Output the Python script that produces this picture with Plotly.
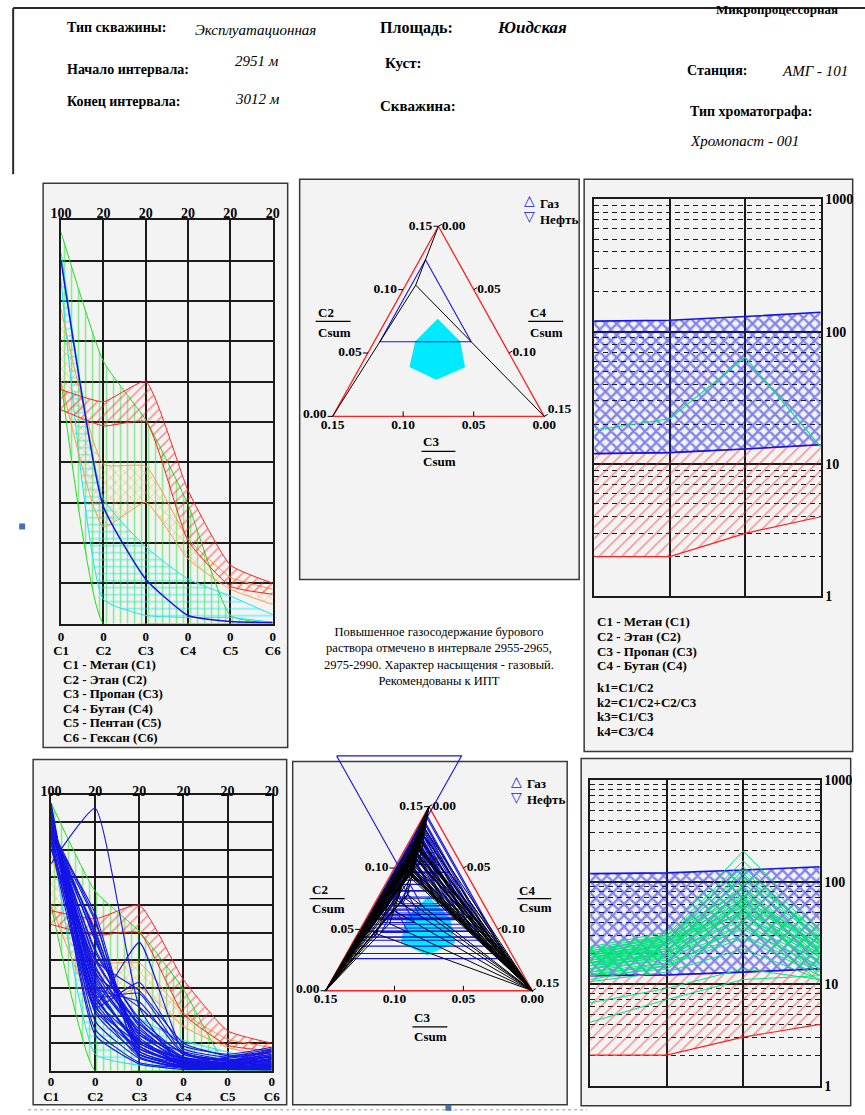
import numpy as np
import plotly.graph_objects as go

# ---------------- header ----------------
well_type = "Эксплуатационная"
area_name = "Юидская"
interval_top = "2951 м"
interval_bottom = "3012 м"
station = "АМГ - 101"
chromatograph = "Хромопаст - 001"
conclusion = [
    "Повышенное газосодержание бурового",
    "раствора отмечено в интервале 2955-2965,",
    "2975-2990. Характер насыщения - газовый.",
    "Рекомендованы к ИПТ",
]

# ---------------- component profile (%, C1..C6) ----------------
components = ["C1", "C2", "C3", "C4", "C5", "C6"]
axis_full_scale = [100, 20, 20, 20, 20, 20]
top_labels = ["100", "20", "20", "20", "20", "20"]
component_names = ["C1 - Метан (C1)", "C2 - Этан (C2)", "C3 - Пропан (C3)",
                   "C4 - Бутан (C4)", "C5 - Пентан (C5)", "C6 - Гексан (C6)"]

green_hi = [97, 13.0, 10.1, 5.9, 0.4, 0.0]
green_lo = [60, 0.0, 0.0, 0.0, 0.0, 0.0]
cyan_hi = [92, 6.2, 3.8, 2.2, 1.36, 0.44]
cyan_lo = [85, 1.2, 0.4, 0.3, 0.3, 0.06]
orange_hi = [78, 7.9, 7.8, 4.2, 2.3, 1.7]
orange_lo = [60, 4.8, 6.0, 3.2, 1.7, 0.95]
red_hi = [58, 11.0, 12.0, 6.6, 2.9, 2.0]
red_lo = [53, 9.8, 10.0, 4.1, 1.85, 1.45]

# current sample
sample_comp = [90, 5.8, 2.2, 0.4, 0.1, 0.05]

# all samples over the interval
c1_all = [90, 75, 85, 96, 95, 94, 93, 92, 91, 90, 89, 88, 87, 86, 93, 92, 91, 90, 89, 88,
          87, 86, 85, 84, 83, 82, 95, 94, 96, 93, 92, 91, 90, 89, 88, 87, 86, 97, 85, 80]
c2_all = [5.8, 19.0, 4.8, 4.2, 5.0, 6.0, 6.6, 7.2, 8.0, 8.6, 9.4, 10.0, 10.8, 11.4, 4.8, 5.4,
          6.2, 7.0, 7.6, 8.2, 8.8, 9.6, 10.2, 6.0, 5.4, 4.6, 3.0, 3.6, 2.6, 4.4, 5.2, 6.8,
          7.4, 9.8, 11.0, 6.4, 5.6, 4.6, 7.0, 8.0]
c3_all = [2.2, 4.6, 9.3, 1.2, 1.6, 2.0, 2.6, 3.0, 3.4, 3.8, 2.6, 2.2, 1.8, 1.4, 1.0, 1.4,
          1.8, 2.4, 2.8, 3.2, 3.6, 2.0, 1.6, 5.0, 5.6, 6.4, 0.6, 0.9, 0.5, 1.6, 2.2, 2.8,
          3.4, 1.2, 1.0, 1.8, 1.2, 2.0, 4.6, 5.8]
c4_all = [0.4, 0.3, 1.4, 0.3, 0.5, 0.6, 0.8, 0.9, 1.0, 1.2, 1.4, 0.9, 0.6, 0.5, 0.2, 0.3,
          0.4, 0.5, 0.6, 0.7, 0.8, 0.9, 0.7, 1.2, 1.3, 1.6, 0.2, 0.2, 0.1, 0.5, 0.7, 1.0,
          1.3, 0.4, 0.3, 0.4, 0.3, 0.6, 1.8, 2.0]
c5_all = [0.1, 0.2, 0.4, 0.2, 0.3, 0.4, 0.5, 0.4, 0.6, 0.7, 0.8, 0.9, 1.0, 0.6, 0.1, 0.2,
          0.2, 0.3, 0.3, 0.4, 0.5, 0.6, 0.6, 0.7, 0.8, 1.0, 0.1, 0.2, 0.1, 0.3, 0.4, 0.5,
          0.7, 0.4, 0.5, 0.2, 0.2, 0.3, 1.2, 1.1]
c6_all = [0.05, 0.2, 0.4, 0.3, 0.4, 0.5, 0.6, 0.7, 0.8, 1.0, 1.2, 1.4, 1.6, 1.5, 0.2, 0.3,
          0.4, 0.5, 0.6, 0.7, 0.8, 1.0, 1.1, 1.2, 1.0, 1.3, 0.1, 0.2, 0.1, 0.9, 1.1, 1.4,
          1.6, 0.8, 0.9, 0.3, 0.2, 0.5, 1.7, 1.4]

# ---------------- ratio chart ----------------
ratio_names = ["k1", "k2", "k3", "k4"]
ratio_legend = ["k1=C1/C2", "k2=C1/C2+C2/C3", "k3=C1/C3", "k4=C3/C4"]
gas_k_hi = [120, 122, 130, 140]
gas_k_lo = [12, 12.2, 13, 14]
oil_k_hi = [12, 12.2, 13, 14]
oil_k_lo = [2, 2, 3, 4]
k_ticks = [1, 10, 100, 1000]
k_minor = [m * d for d in (1, 10, 100) for m in range(2, 10)]

sample_k = [18, 22, 64, 13.5]
k1_all = [18, 4.2, 6.5, 12, 13, 14, 15, 16, 17, 18, 19, 20, 21, 22, 23, 15, 16, 17, 18, 19,
          20, 14, 13, 12, 11, 16, 17, 18, 15, 14, 20, 21, 10.5, 12.5, 19, 16]
k2_all = [22, 7, 9, 14, 16, 17, 18, 19, 21, 23, 25, 27, 29, 30, 32, 20, 22, 24, 26, 28,
          30, 19, 18, 16, 15, 20, 22, 24, 21, 20, 26, 28, 13, 15, 24, 25]
k3_all = [64, 11, 14, 40, 48, 55, 60, 70, 80, 90, 105, 120, 140, 160, 200, 45, 52, 58, 66, 75,
          85, 38, 34, 30, 28, 42, 50, 110, 95, 62, 56, 48, 22, 36, 72, 130]
k4_all = [13.5, 12, 11, 10.5, 12, 14, 16, 18, 20, 22, 24, 26, 28, 30, 34, 20, 22, 25, 27, 24,
          21, 17, 15, 13, 12, 19, 23, 32, 29, 25, 18, 16, 11, 14, 19, 27]

# ---------------- triangle diagram ----------------
S = 0.15                       # full scale of each side (fraction of Csum)
tri_ticks = [0.0, 0.05, 0.10, 0.15]
prod_a = [0.077, 0.059, 0.039, 0.029, 0.039, 0.059]   # productive zone, C2 share
prod_b = [0.037, 0.030, 0.037, 0.062, 0.076, 0.062]   # C3 share
prod_c = [0.036, 0.061, 0.075, 0.059, 0.035, 0.029]   # C4 share

# ================= drawing =================
# layout positions below are given in sheet pixels (865 x 1115 sheet);
# the figure is sized so that the sheet fills the page around the default body margin
SX, SY = 0.98, 0.986
BODY = 8
W = round(865 / SX - BODY)
H = round(1115 / SY - BODY)
INK = "#1b1b1b"
FRAME = "#3a3a3a"
PANEL = "#f3f3f3"
SERIF = "Liberation Serif"
RED = "#ff2020"
ORANGE = "#ff9a48"
GREEN = "#1ee01e"
CYAN = "#14e6f2"
BLUE = "#1414e6"
SPRING = "#00e67a"
TICKFONT = dict(family=SERIF, size=14, color="black", weight="bold")
TICKFONT_S = dict(family=SERIF, size=13, color="black", weight="bold")


def px(x):
    return (x / SX - BODY) / W


def py(y):
    return 1 - (y / SY - BODY) / H


def dx(x0, x1):
    return [px(x0), px(x1)]


def dy(top, bot):
    return [py(bot), py(top)]


def ax(n):
    return "" if n == 1 else str(n)


fig = go.Figure()
axes = {}
shapes = []
annots = []


def scat(n, x, y, **kw):
    s = ax(n)
    fig.add_trace(go.Scatter(x=x, y=y, xaxis=f"x{s}", yaxis=f"y{s}", showlegend=False,
                             hoverinfo="skip", **kw))


def txt(x, y, s, size=13, anchor="left", color="black", family=SERIF):
    annots.append(dict(x=px(x), y=py(y), xref="paper", yref="paper", text=s,
                       showarrow=False, xanchor=anchor, yanchor="middle",
                       font=dict(family=family, size=size, color=color)))


def rect(x0, y0, x1, y1, fill, line="rgba(0,0,0,0)", lw=0, layer="below"):
    shapes.append(dict(type="rect", xref="paper", yref="paper", x0=px(x0), x1=px(x1),
                       y0=py(y1), y1=py(y0), fillcolor=fill,
                       line=dict(color=line, width=lw), layer=layer))


def seg(x0, y0, x1, y1, color, lw, dash="solid", layer="above"):
    shapes.append(dict(type="line", xref="paper", yref="paper", x0=px(x0), x1=px(x1),
                       y0=py(y0), y1=py(y1), line=dict(color=color, width=lw, dash=dash),
                       layer=layer))


def norm(vals):
    return [v / s for v, s in zip(vals, axis_full_scale)]


# ---------- page furniture ----------
rect(10, 7.9, 865, 9, "#dbe5f3")
seg(10, 9, 865, 9, "#2a2a2a", 2, layer="below")
seg(10, 9, 10, 175, "#2a2a2a", 2, layer="below")
for box in [(40, 184, 285, 748), (297, 180, 577, 580), (582, 180, 851, 752),
            (30, 760, 284, 1105), (290, 762, 565, 1105), (579, 759, 849, 1106)]:
    rect(*box, PANEL, FRAME, 1.5)
seg(25, 1110, 585, 1110, "#8a9ab8", 1, dash="dot", layer="below")
rect(16, 524, 22, 530, "#4a6fb5")
rect(443, 1105, 449, 1111, "#4a6fb5")

# ---------- header ----------
B = lambda s: f"<b>{s}</b>"
I = lambda s: f"<i>{s}</i>"
txt(62, 28, B("Тип скважины:"), 14)
txt(190, 31, I(well_type), 15)
txt(375, 28, B("Площадь:"), 16)
txt(493, 28, B(I(area_name)), 17)
txt(775, 10, B("Микропроцессорная"), 13, anchor="center")
txt(62, 70, B("Начало интервала:"), 14)
txt(230, 62, I(interval_top), 15)
txt(380, 64, B("Куст:"), 15)
txt(683, 71, B("Станция:"), 14)
txt(778, 72, I(station), 15)
txt(62, 102, B("Конец интервала:"), 14)
txt(230, 100, I(interval_bottom), 15)
txt(375, 107, B("Скважина:"), 15)
txt(686, 112, B("Тип хроматографа:"), 14)
txt(686, 142, I(chromatograph), 15)

# ---------- component profiles ----------
zone_style = [
    (green_lo, green_hi, GREEN, "|", 0.22),
    (cyan_lo, cyan_hi, CYAN, "-", 0.24),
    (orange_lo, orange_hi, ORANGE, "x", 0.26),
    (red_lo, red_hi, RED, "/", 0.22),
]
SPL = dict(shape="spline", smoothing=0.45)


def profile(n_main, n_top, n_lab, box, lab_px, top_shift, zero_shift, tfont, samples, lw):
    x0, x1, y0, y1 = box
    s = ax(n_main)
    grid = dict(showgrid=True, gridcolor=INK, gridwidth=1.5, showline=True, mirror=True,
                linecolor=INK, linewidth=1.5, zeroline=False, ticks="", fixedrange=True)
    axes[f"xaxis{s}"] = dict(domain=dx(x0, x1), range=[0, 5], anchor=f"y{s}",
                             tickmode="array", tickvals=list(range(6)), ticktext=["0"] * 6,
                             tickfont=tfont, ticklabelstandoff=zero_shift, **grid)
    axes[f"yaxis{s}"] = dict(domain=dy(y0, y1), range=[0, 1], anchor=f"x{s}",
                             tickmode="array", tickvals=[i / 10 for i in range(11)],
                             showticklabels=False, **grid)
    axes[f"xaxis{ax(n_top)}"] = dict(overlaying=f"x{s}", anchor=f"y{s}", side="top",
                                     range=[0, 5], tickmode="array", tickvals=list(range(6)),
                                     ticktext=top_labels, ticks="", showgrid=False,
                                     showline=False, zeroline=False, tickfont=TICKFONT,
                                     ticklabelstandoff=top_shift, fixedrange=True)
    axes[f"xaxis{ax(n_lab)}"] = dict(overlaying=f"x{s}", anchor="free", position=py(lab_px),
                                     side="bottom", range=[0, 5], tickmode="array",
                                     tickvals=list(range(6)), ticktext=components, ticks="",
                                     showgrid=False, showline=False, zeroline=False,
                                     tickfont=tfont, fixedrange=True)
    for n in (n_top, n_lab):
        fig.add_trace(go.Scatter(x=[0, 5], y=[None, None], xaxis=f"x{ax(n)}", yaxis=f"y{s}",
                                 mode="lines", showlegend=False, hoverinfo="skip"))
    xs = list(range(6))
    for lo, hi, col, pat, sol in zone_style:
        scat(n_main, xs, norm(lo), mode="lines", line=dict(color=col, width=1, **SPL))
        scat(n_main, xs, norm(hi), mode="lines", line=dict(color=col, width=1, **SPL),
             fill="tonexty", fillcolor="rgba(0,0,0,0)",
             fillpattern=dict(shape=pat, fgcolor=col, bgcolor="rgba(0,0,0,0)", size=7,
                              solidity=sol, fillmode="overlay"))
    lx, ly = [], []
    for comp in samples:
        lx += xs + [None]
        ly += norm(comp) + [None]
    scat(n_main, lx, ly, mode="lines", line=dict(color=BLUE, width=lw, **SPL))


all_samples = [list(r) for r in zip(c1_all, c2_all, c3_all, c4_all, c5_all, c6_all)]

profile(1, 2, 3, (58, 270, 221, 624), 641, -2, 0, TICKFONT_S, [sample_comp], 1.5)
profile(4, 5, 6, (48, 269, 795, 1071), 1087, -5, -2, TICKFONT_S, all_samples, 1.1)

for i, name in enumerate(component_names):
    txt(58, 665 + i * 14.5, B(name), 13)

# ---------- triangle diagrams ----------
def tern_xy(a, b, c):
    a, b, c = (np.asarray(v, dtype=float) for v in (a, b, c))
    t = a + b + c
    return ((c - b) / t).tolist(), (a / t).tolist()


def triangle(n, box, Lx, Rx, base_y, apex_y, samples, titles):
    x0, x1, y0, y1 = box
    cx, hx, hy = (Lx + Rx) / 2, (Rx - Lx) / 2, base_y - apex_y
    s = ax(n)
    axes[f"xaxis{s}"] = dict(domain=dx(x0, x1), range=[(x0 - cx) / hx, (x1 - cx) / hx],
                             anchor=f"y{s}", visible=False, fixedrange=True)
    axes[f"yaxis{s}"] = dict(domain=dy(y0, y1), range=[(base_y - y1) / hy, (base_y - y0) / hy],
                             anchor=f"x{s}", visible=False, fixedrange=True)
    fx, fy = tern_xy([S, 0, 0, S], [0, 0, S, 0], [0, S, 0, 0])
    scat(n, fx, fy, mode="lines", line=dict(color=RED, width=1.3))
    zx, zy = tern_xy(prod_a + prod_a[:1], prod_b + prod_b[:1], prod_c + prod_c[:1])
    scat(n, zx, zy, mode="lines", line=dict(width=0, color=CYAN), fill="toself",
         fillcolor="#00eaff")
    bx, by, kx, ky = [], [], [], []
    for comp in samples:
        cs = sum(comp)
        a, b, c = comp[1] / cs, comp[2] / cs, comp[3] / cs
        vx, vy = tern_xy([a, a, S - b - c, a], [b, S - a - c, b, b],
                         [S - a - b, c, c, S - a - b])
        bx += vx + [None]
        by += vy + [None]
        (qx,), (qy,) = tern_xy([comp[1]], [comp[2]], [comp[3]])
        for vxx, vyy in ((0, 1), (-1, 0), (1, 0)):
            kx += [vxx, qx, None]
            ky += [vyy, qy, None]
    scat(n, bx, by, mode="lines", line=dict(color=BLUE, width=1.1))
    scat(n, kx, ky, mode="lines", line=dict(color="black", width=1))
    # side scales
    tlx, tly, tx, ty, tt, tp = [], [], [], [], [], []
    ex, ey = 5 / hx, 5 / hy
    for v in tri_ticks:
        lab = f"{v:.2f}"
        (lx,), (ly,) = tern_xy([v], [S - v], [0])
        tlx += [lx, lx - ex, None]
        tly += [ly, ly, None]
        tx.append(lx - ex - 0.01); ty.append(ly + (1.5 / hy if v == 0 else 0))
        tt.append(lab); tp.append("middle left")
        (rx,), (ry,) = tern_xy([S - v], [0], [v])
        tlx += [rx, rx + 0.87 * ex * 0.8, None]
        tly += [ry, ry + 0.5 * ey * 0.8, None]
        tx.append(rx + 0.87 * ex * 0.8); ty.append(ry); tt.append(lab)
        tp.append("top right" if v == S else "middle right")
        (gx,), (gy,) = tern_xy([0], [v], [S - v])
        if 0 < v < S:
            tlx += [gx, gx, None]
            tly += [gy, gy + ey, None]
        tx.append(gx); ty.append(gy - 2.5 / hy); tt.append(lab); tp.append("bottom center")
    scat(n, tlx, tly, mode="lines", line=dict(color="black", width=1))
    scat(n, tx, ty, mode="text", text=[B(t) for t in tt], textposition=tp,
         textfont=dict(family=SERIF, size=13.5, color="black"), cliponaxis=False)
    # side titles
    for (name, xl, yn, bar_y, ys, w) in titles:
        txt(xl, yn, B(name), 13)
        seg(xl, bar_y, xl + w, bar_y, "black", 1.2)
        txt(xl, ys, B("Csum"), 13)


triangle(7, (297, 577, 182, 578), 330, 542, 417, 227, [sample_comp],
         [("C2", 313, 313, 322, 333, 35), ("C4", 526, 313, 322, 333, 35),
          ("C3", 419, 442, 452, 462, 34)])
triangle(8, (291, 565, 745, 1104), 323, 530, 991, 807, all_samples,
         [("C2", 307, 890, 899, 909, 35), ("C4", 515, 891, 899, 908, 34),
          ("C3", 410, 1018, 1027, 1037, 35)])

for (sx, sy) in [(527, 201), (514, 781)]:
    txt(sx, sy, "△", 14, anchor="center", color=BLUE, family="DejaVu Sans")
    txt(sx, sy + 16, "▽", 14, anchor="center", color=BLUE, family="DejaVu Sans")
    txt(sx + 9, sy + 3, B("Газ"), 13)
    txt(sx + 9, sy + 19, B("Нефть"), 13)

# ---------- ratio charts ----------
def ratio_chart(n, box, k_lines, lw):
    x0, x1, y0, y1 = box
    s = ax(n)
    line = dict(showline=True, mirror=True, linecolor=INK, linewidth=1.5, zeroline=False,
                fixedrange=True)
    axes[f"xaxis{s}"] = dict(domain=dx(x0, x1), range=[0, 3], anchor=f"y{s}",
                             tickmode="array", tickvals=[0, 1, 2, 3], showticklabels=False,
                             ticks="", showgrid=True, gridcolor=INK, gridwidth=1.5, **line)
    axes[f"yaxis{s}"] = dict(domain=dy(y0, y1), type="log", range=[0, 3], anchor=f"x{s}",
                             side="right", tickmode="array", tickvals=k_ticks,
                             ticktext=[str(t) for t in k_ticks], ticks="",
                             tickfont=TICKFONT, showgrid=True, gridcolor=INK, gridwidth=1.5,
                             minor=dict(tickmode="array", tickvals=k_minor, showgrid=True,
                                        gridcolor=INK, gridwidth=1, griddash="5px,4px",
                                        ticks=""),
                             **line)
    xs = [0, 1, 2, 3]
    scat(n, xs, oil_k_lo, mode="lines", line=dict(color=RED, width=1.2))
    scat(n, xs, oil_k_hi, mode="lines", line=dict(color=RED, width=1.2), fill="tonexty",
         fillcolor="rgba(0,0,0,0)",
         fillpattern=dict(shape="/", fgcolor=RED, bgcolor="rgba(0,0,0,0)", size=8,
                          solidity=0.18, fillmode="overlay"))
    scat(n, xs, gas_k_lo, mode="lines", line=dict(color=BLUE, width=1.6))
    scat(n, xs, gas_k_hi, mode="lines", line=dict(color=BLUE, width=1.6), fill="tonexty",
         fillcolor="rgba(0,0,0,0)",
         fillpattern=dict(shape="x", fgcolor=BLUE, bgcolor="rgba(0,0,0,0)", size=8,
                          solidity=0.5, fillmode="overlay"))
    gx, gy = [], []
    for row in k_lines:
        gx += xs + [None]
        gy += list(row) + [None]
    scat(n, gx, gy, mode="lines", line=dict(color=SPRING, width=lw))


ratio_chart(9, (592, 819, 200, 597), [sample_k], 1.2)
ratio_chart(10, (588, 818, 780, 1086),
            [list(r) for r in zip(k1_all, k2_all, k3_all, k4_all)], 1)

for i, name in enumerate(component_names[:4]):
    txt(593, 622 + i * 14.8, B(name), 13)
for i, name in enumerate(ratio_legend):
    txt(593, 688 + i * 14.7, B(name), 13)

# ---------- conclusion ----------
txt(437, 657, "<br>".join(conclusion), 12.5, anchor="center")

fig.update_layout(width=W, height=H, margin=dict(l=0, r=0, t=0, b=0, pad=0),
                  paper_bgcolor="white", plot_bgcolor="rgba(0,0,0,0)", showlegend=False,
                  shapes=shapes, annotations=annots, **axes)
fig.write_html("out.html")
